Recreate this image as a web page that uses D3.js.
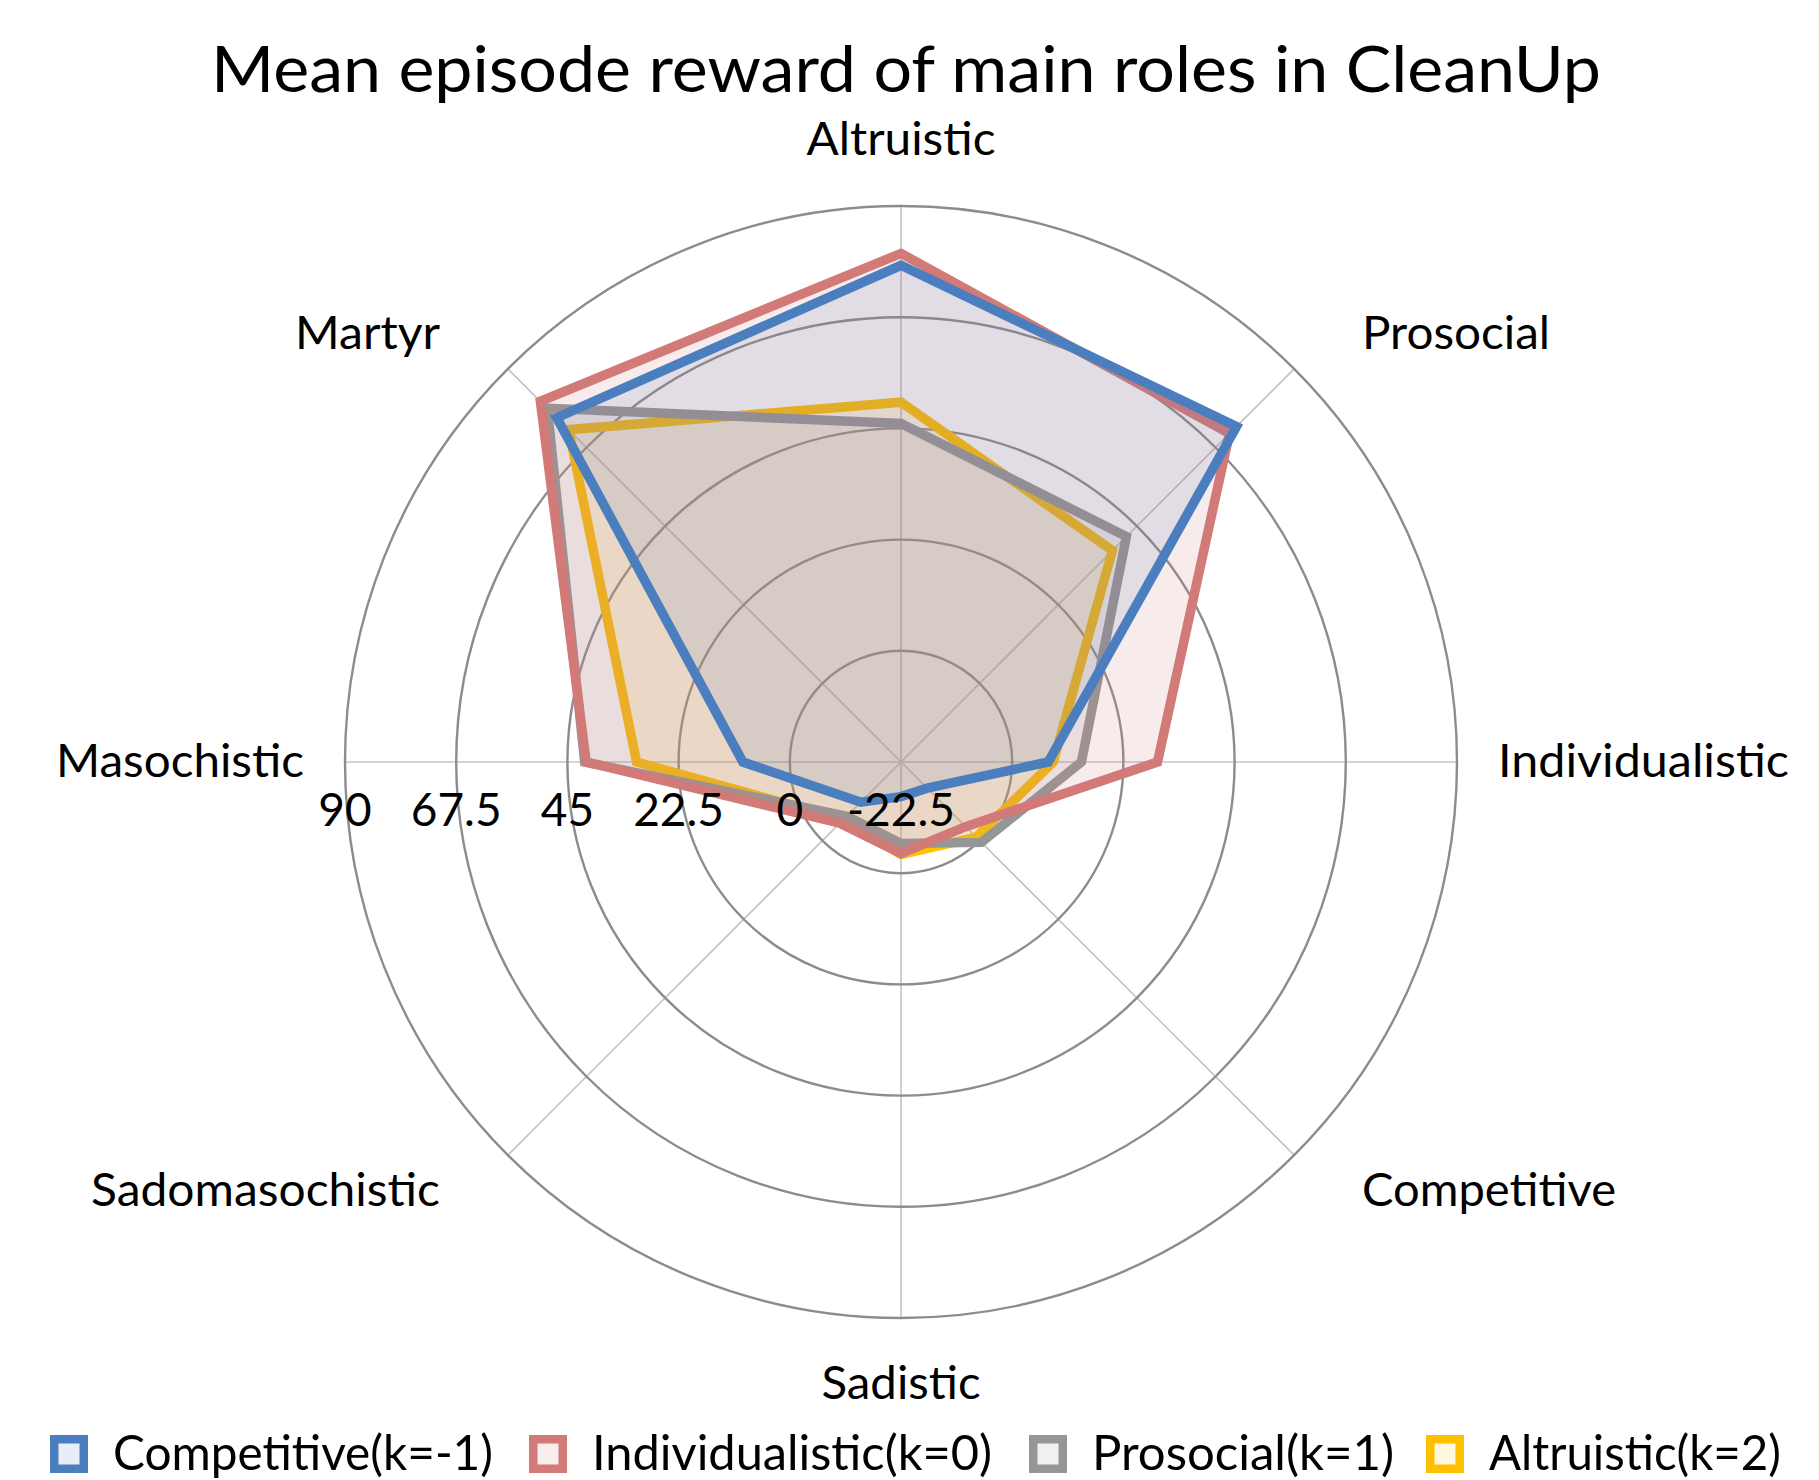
<!DOCTYPE html>
<html>
<head>
<meta charset="utf-8">
<script src="https://cdn.jsdelivr.net/npm/d3@7"></script>
<style>
  body { margin: 0; background: #fff; }
  text { font-family: Lato, "Open Sans", sans-serif; fill: #000; }
</style>
</head>
<body>
<div id="chart"></div>
<script>
// Data
const axes = ['Altruistic', 'Prosocial', 'Individualistic', 'Competitive', 'Sadistic', 'Sadomasochistic', 'Masochistic', 'Martyr'];
const seriesNames = ['Competitive(k=-1)', 'Individualistic(k=0)', 'Prosocial(k=1)', 'Altruistic(k=2)'];
const competitiveVals = [78, 73.5, 7.3, -15, -15.5, -11, 9.5, 76];
const individualisticVals = [80.4, 71.5, 29.4, -4, -4, -5, 41.2, 80.7];
const prosocialVals = [46, 42, 14, 0.5, -6, -7, 41.5, 78.7];
const altruisticVals = [50.3, 38, 8.3, -1, -3.8, -6, 31, 72.6];
const tickValues = [-22.5, 0, 22.5, 45, 67.5, 90];
const colors = ['#4a7ebe', '#d27a78', '#969696', '#ffc000'];

const series = [competitiveVals, individualisticVals, prosocialVals, altruisticVals];

const width = 1819;
const height = 1480;
const cx = 901, cy = 762, outerR = 556;

const svg = d3.select('#chart')
  .append('svg')
  .attr('width', width)
  .attr('height', height);

const r = d3.scaleLinear()
  .domain([tickValues[0], tickValues[tickValues.length - 1]])
  .range([0, outerR]);

const angle = i => i * 2 * Math.PI / axes.length;

const g = svg.append('g').attr('transform', `translate(${cx},${cy})`);

// spokes
g.selectAll('.spoke')
  .data(axes)
  .enter().append('line')
  .attr('class', 'spoke')
  .attr('x1', 0).attr('y1', 0)
  .attr('x2', (_, i) => outerR * Math.sin(angle(i)))
  .attr('y2', (_, i) => -outerR * Math.cos(angle(i)))
  .attr('stroke', '#c4c4c4')
  .attr('stroke-width', 1.6);

// rings
g.selectAll('.ring')
  .data(tickValues.slice(1))
  .enter().append('circle')
  .attr('class', 'ring')
  .attr('r', d => r(d))
  .attr('fill', 'none')
  .attr('stroke', '#8c8c8c')
  .attr('stroke-width', 2.4);

// series, drawn last-to-first like the spreadsheet does
const line = d3.lineRadial()
  .angle((_, i) => angle(i))
  .radius(d => r(d))
  .curve(d3.curveLinearClosed);

const order = [3, 2, 1, 0];
const fillAlpha = [0.12, 0.15, 0.15, 0.12];
order.forEach(k => {
  g.append('path')
    .attr('d', line(series[k]))
    .attr('fill', colors[k])
    .attr('fill-opacity', fillAlpha[k])
    .attr('stroke', 'none');
  g.append('path')
    .attr('d', line(series[k]))
    .attr('fill', 'none')
    .attr('stroke', colors[k])
    .attr('stroke-width', 9.5)
    .attr('stroke-linejoin', 'miter');
});

// tick labels
g.selectAll('.tick-label')
  .data(tickValues)
  .enter().append('text')
  .attr('class', 'tick-label')
  .attr('x', d => -r(d))
  .attr('y', 64)
  .attr('text-anchor', 'middle')
  .style('font-size', '46px')
  .text(d => d);

// axis labels
const labelWidths = [189, 188, 291, 254, 159, 349, 248, 145];
g.selectAll('.axis-label')
  .data(axes)
  .enter().append('text')
  .attr('class', 'axis-label')
  .attr('x', (_, i) => {
    const s = Math.sin(angle(i)), c = Math.cos(angle(i));
    if (Math.abs(s) < 0.01) return 0;
    return Math.abs(c) < 0.01 ? s * 597 : Math.sign(s) * 461;
  })
  .attr('y', (_, i) => {
    const c = Math.cos(angle(i));
    const diag = Math.abs(Math.sin(angle(i))) > 0.01 && Math.abs(c) > 0.01;
    return -c * (diag ? 606 : 622) + 15;
  })
  .attr('text-anchor', (_, i) => {
    const s = Math.sin(angle(i));
    return Math.abs(s) < 0.01 ? 'middle' : (s > 0 ? 'start' : 'end');
  })
  .attr('textLength', (_, i) => labelWidths[i])
  .attr('lengthAdjust', 'spacingAndGlyphs')
  .style('font-size', '46px')
  .text(d => d);

// title
svg.append('text')
  .attr('x', 906)
  .attr('y', 92)
  .attr('text-anchor', 'middle')
  .attr('textLength', 1390)
  .attr('lengthAdjust', 'spacingAndGlyphs')
  .style('font-size', '63px')
  .text('Mean episode reward of main roles in CleanUp');

// legend
const legendX = [50, 529, 1029, 1426];
const legendW = [380, 400, 302, 292];
const legend = svg.selectAll('.legend')
  .data(seriesNames)
  .enter().append('g')
  .attr('class', 'legend')
  .attr('transform', (_, i) => `translate(${legendX[i]},1435)`);

legend.append('rect')
  .attr('x', 4.25).attr('y', 4.25)
  .attr('width', 29.5).attr('height', 29.5)
  .attr('fill', (_, i) => d3.interpolateRgb(colors[i], '#fff')(0.87))
  .attr('stroke', (_, i) => colors[i])
  .attr('stroke-width', 8.5);

legend.append('text')
  .attr('x', 63)
  .attr('y', 35)
  .attr('textLength', (_, i) => legendW[i])
  .attr('lengthAdjust', 'spacingAndGlyphs')
  .style('font-size', '49px')
  .text(d => d);
</script>
</body>
</html>
